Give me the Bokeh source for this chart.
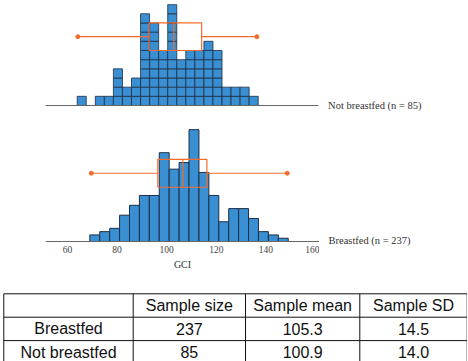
from bokeh.plotting import figure
from bokeh.layouts import column, row
from bokeh.models import Range1d, FixedTicker
from bokeh.core.properties import value
from bokeh.embed import file_html
from bokeh.resources import INLINE

# ---------------- data ----------------
# Not breastfed histogram (bin width 4, first edge 58)
nb_bin_start = 58
nb_bin_width = 4
nb_counts = [1, 0, 1, 1, 4, 2, 3, 10, 9, 6, 11, 5, 6, 6, 7, 6, 2, 2, 2, 1]
nb_min, nb_q1, nb_median, nb_q3, nb_max = 58.3, 89.8, 100.7, 113.0, 137.4

# Breastfed histogram (bin width 4, first edge 69)
bf_bin_start = 69
bf_bin_width = 4
bf_counts = [2, 3, 4, 8, 11, 14, 14, 27, 22, 24, 34, 21, 14, 6, 10, 10, 7, 3, 2, 1]
bf_min, bf_q1, bf_median, bf_q3, bf_max = 69.6, 96.4, 106.5, 116.2, 148.6

gci_ticks = [60, 80, 100, 120, 140, 160]

groups = ["Breastfed", "Not breastfed"]
sample_size = [237, 85]
sample_mean = [105.3, 100.9]
sample_sd = [14.5, 14.0]
headers = ["Sample size", "Sample mean", "Sample SD"]

# ---------------- styles ----------------
BAR = "#3a8fd2"
EDGE = "#1d2f45"
ORANGE = "#f26d2b"
SERIF = "Liberation Serif"
SANS = "Liberation Sans"

# ---------------- top: not breastfed ----------------
p1 = figure(width=467, height=118, x_range=Range1d(24.1, 230.5),
            y_range=Range1d(-1.418, 11.45), output_backend="svg",
            toolbar_location=None, x_axis_location=None, y_axis_location=None,
            min_border=0)
p1.grid.visible = False
p1.outline_line_color = None

lefts, rights, bottoms, tops = [], [], [], []
for i, c in enumerate(nb_counts):
    for k in range(c):
        lefts.append(nb_bin_start + i * nb_bin_width)
        rights.append(nb_bin_start + (i + 1) * nb_bin_width)
        bottoms.append(k)
        tops.append(k + 1)
p1.quad(left=lefts, right=rights, bottom=bottoms, top=tops,
        fill_color=BAR, line_color=EDGE, line_width=0.8)

# baseline
p1.segment(x0=[44.0], y0=[0], x1=[164.6], y1=[0], line_color="#666", line_width=1)

# box plot overlay
wy = 7.5
p1.segment(x0=[nb_min, nb_q3], y0=[wy, wy], x1=[nb_q1, nb_max], y1=[wy, wy],
           line_color=ORANGE, line_width=1.2)
p1.scatter(x=[nb_min, nb_max], y=[wy, wy], size=4, color=ORANGE)
p1.quad(left=[nb_q1], right=[nb_q3], bottom=[6], top=[9], fill_color=None,
        line_color=ORANGE, line_width=1.2)
p1.segment(x0=[nb_median], y0=[6], x1=[nb_median], y1=[9], line_color=ORANGE,
           line_width=1.2)

p1.text(x=[168.9], y=[0], text=[f"Not breastfed (n = {sample_size[1]})"],
        text_font=value(SERIF), text_font_size="10.5px", text_color="#333",
        text_baseline="middle", text_align="left")

# ---------------- bottom: breastfed ----------------
x2 = Range1d(51.13, 161.61)
y2 = Range1d(-1.52, 37.4)
p2 = figure(width=319, height=157, x_range=x2, y_range=y2, output_backend="svg",
            toolbar_location=None, y_axis_location=None,
            min_border_top=0, min_border_left=45, min_border_right=0,
            min_border_bottom=29)
p2.grid.visible = False
p2.outline_line_color = None

bf_left = [bf_bin_start + i * bf_bin_width for i in range(len(bf_counts))]
bf_right = [l + bf_bin_width for l in bf_left]
p2.quad(left=bf_left, right=bf_right, bottom=0, top=bf_counts,
        fill_color=BAR, line_color=EDGE, line_width=1)

# baseline at zero across the axis extent
p2.segment(x0=[x2.start], y0=[0], x1=[x2.end], y1=[0], line_color="#666", line_width=1)

wy2 = 20.75
p2.segment(x0=[bf_min, bf_q3], y0=[wy2, wy2], x1=[bf_q1, bf_max], y1=[wy2, wy2],
           line_color=ORANGE, line_width=1.2)
p2.scatter(x=[bf_min, bf_max], y=[wy2, wy2], size=4, color=ORANGE)
p2.quad(left=[bf_q1], right=[bf_q3], bottom=[16.5], top=[25], fill_color=None,
        line_color=ORANGE, line_width=1.2)
p2.segment(x0=[bf_median], y0=[16.5], x1=[bf_median], y1=[25], line_color=ORANGE,
           line_width=1.2)

ax = p2.xaxis[0]
ax.ticker = FixedTicker(ticks=gci_ticks)
ax.axis_line_color = None
ax.major_tick_out = 0
ax.major_tick_in = 0
ax.minor_tick_out = 0
ax.minor_tick_in = 0
ax.major_label_text_font = SERIF
ax.major_label_text_font_size = "9.5px"
ax.major_label_text_color = "#444"
ax.major_label_standoff = -1
ax.axis_label = "GCI"
ax.axis_label_text_font = SERIF
ax.axis_label_text_font_size = "10px"
ax.axis_label_text_font_style = "normal"
ax.axis_label_text_color = "#333"
ax.axis_label_standoff = 3

# side panel holding the group label at the baseline level (frame aligned with p2)
p2b = figure(width=148, height=157, x_range=Range1d(0, 148), y_range=y2,
             output_backend="svg", toolbar_location=None,
             x_axis_location=None, y_axis_location=None, min_border=0)
p2b.grid.visible = False
p2b.outline_line_color = None
p2b.text(x=[9], y=[0.2], text=[f"Breastfed (n = {sample_size[0]})"],
         text_font=value(SERIF), text_font_size="10.5px", text_color="#333",
         text_baseline="middle", text_align="left")

# ---------------- table ----------------
p3 = figure(width=467, height=86, x_range=Range1d(0, 467),
            y_range=Range1d(2.893, -0.782), output_backend="svg",
            toolbar_location=None, x_axis_location=None, y_axis_location=None,
            min_border=0)
p3.grid.visible = False
p3.outline_line_color = None

col_edges = [3.3, 132.7, 245.0, 359.3, 466.7]
n_rows = 1 + len(groups)
p3.segment(x0=[col_edges[0]] * (n_rows + 1), y0=list(range(n_rows + 1)),
           x1=[col_edges[-1]] * (n_rows + 1), y1=list(range(n_rows + 1)),
           line_color="#111", line_width=1)
p3.segment(x0=col_edges, y0=[0] * len(col_edges), x1=col_edges,
           y1=[n_rows] * len(col_edges), line_color="#111", line_width=1)

centers = [(col_edges[i] + col_edges[i + 1]) / 2 for i in range(4)]
tx, ty, tt = [], [], []
for j, h in enumerate(headers):
    tx.append(centers[j + 1]); ty.append(0.5); tt.append(h)
for r, g in enumerate(groups):
    row_vals = [g, str(sample_size[r]), f"{sample_mean[r]:.1f}", f"{sample_sd[r]:.1f}"]
    for j, v in enumerate(row_vals):
        tx.append(centers[j]); ty.append(r + 1.5); tt.append(v)
p3.text(x=tx, y=ty, text=tt, text_font=value(SANS), text_font_size="16px",
        text_color="#111", text_align="center", text_baseline="middle")

layout = column(p1, row(p2, p2b, spacing=0), p3, spacing=0)

open("out.html", "w").write(file_html(layout, INLINE))
